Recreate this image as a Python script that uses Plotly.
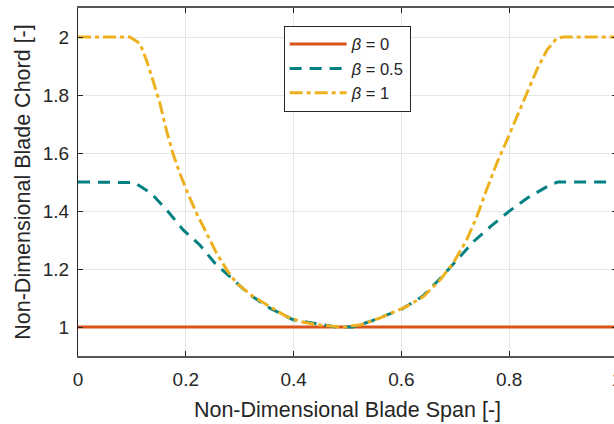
import plotly.graph_objects as go

# ---- data ----
x_beta0 = [0.0, 1.0]
y_beta0 = [1.0, 1.0]

x_beta05 = [0, 0.09, 0.105, 0.136, 0.167, 0.195, 0.226, 0.254, 0.282, 0.319, 0.356,
            0.399, 0.44, 0.48, 0.51, 0.545, 0.6, 0.64, 0.676, 0.709, 0.734, 0.765,
            0.799, 0.833, 0.876, 0.89, 1.0]
y_beta05 = [1.5, 1.5, 1.498, 1.461, 1.398, 1.335, 1.283, 1.22, 1.174, 1.111, 1.065,
            1.025, 1.012, 1.0, 1.0, 1.021, 1.061, 1.107, 1.175, 1.243, 1.295, 1.346,
            1.398, 1.444, 1.49, 1.5, 1.5]

x_beta1 = [0, 0.096, 0.115, 0.127, 0.139, 0.152, 0.164, 0.176, 0.189, 0.201, 0.22,
           0.238, 0.257, 0.276, 0.294, 0.325, 0.356, 0.387, 0.412, 0.44, 0.47, 0.495,
           0.525, 0.56, 0.61, 0.641, 0.672, 0.696, 0.721, 0.74, 0.758, 0.777, 0.796,
           0.814, 0.833, 0.851, 0.87, 0.888, 0.9, 1.0]
y_beta1 = [2, 2, 1.978, 1.92, 1.851, 1.771, 1.679, 1.599, 1.53, 1.473, 1.392,
           1.324, 1.255, 1.197, 1.151, 1.105, 1.071, 1.036, 1.019, 1.009, 1.003, 1.0,
           1.008, 1.031, 1.071, 1.105, 1.163, 1.22, 1.3, 1.381, 1.473, 1.565, 1.645,
           1.725, 1.806, 1.886, 1.955, 1.995, 2.0, 2.0]

series_names = ["<i>β</i> = 0", "<i>β</i> = 0.5", "<i>β</i> = 1"]
x_ticks = [0, 0.2, 0.4, 0.6, 0.8, 1]
x_tick_text = ["0", "0.2", "0.4", "0.6", "0.8", "1"]
y_ticks = [1, 1.2, 1.4, 1.6, 1.8, 2]
y_tick_text = ["1", "1.2", "1.4", "1.6", "1.8", "2"]

FONT = "Liberation Sans, Arial, Helvetica, sans-serif"
AX = "#262626"

fig = go.Figure()
fig.add_trace(go.Scatter(x=x_beta0, y=y_beta0, mode="lines", name=series_names[0],
                         line=dict(color="#D95319", width=3)))
fig.add_trace(go.Scatter(x=x_beta05, y=y_beta05, mode="lines", name=series_names[1],
                         line=dict(color="#008080", width=3, dash="12px,8px")))
fig.add_trace(go.Scatter(x=x_beta1, y=y_beta1, mode="lines", name=series_names[2],
                         line=dict(color="#EDB120", width=3, dash="13px,4px,4px,4px")))
# invisible trace to carry the right-side ticks
fig.add_trace(go.Scatter(x=[0], y=[1], yaxis="y2", mode="none", showlegend=False,
                         hoverinfo="skip"))

# the reference's plot box ends just beyond the right edge of the 614 px picture
fig.update_layout(
    width=617, height=424,
    margin=dict(l=78, r=0, t=8, b=68),
    paper_bgcolor="white", plot_bgcolor="white",
    font=dict(family=FONT, color=AX, size=19),
    showlegend=True,
    legend=dict(
        x=0.3816, y=0.949, xanchor="left", yanchor="top",
        bgcolor="white", bordercolor=AX, borderwidth=1,
        font=dict(family=FONT, size=16.5, color=AX),
        itemwidth=57, tracegroupgap=0,
    ),
    xaxis=dict(
        range=[0, 1], tickvals=x_ticks, ticktext=x_tick_text,
        showgrid=True, gridcolor="#e5e5e5", gridwidth=1, zeroline=False,
        showline=True, linecolor="#555555", linewidth=1.5, mirror="ticks",
        ticks="inside", ticklen=5, tickcolor=AX, tickwidth=1,
        tickfont=dict(size=19, family=FONT, color=AX),
        ticklabelstandoff=5, ticklabeloverflow="allow",
        title=dict(text="Non-Dimensional Blade Span [-]", font=dict(size=21.5, family=FONT, color=AX),
                   standoff=13),
        automargin=False,
    ),
    yaxis=dict(
        range=[0.9, 2.1], tickvals=y_ticks, ticktext=y_tick_text,
        showgrid=True, gridcolor="#e5e5e5", gridwidth=1, zeroline=False,
        showline=True, linecolor=AX, linewidth=1, mirror=False,
        ticks="inside", ticklen=5, tickcolor=AX, tickwidth=1,
        tickfont=dict(size=19, family=FONT, color=AX),
        ticklabelstandoff=4,
        title=dict(text="Non-Dimensional Blade Chord [-]", font=dict(size=21.5, family=FONT, color=AX),
                   standoff=6),
        automargin=False,
    ),
    yaxis2=dict(
        range=[0.9, 2.1], overlaying="y", side="right", tickvals=y_ticks,
        showticklabels=False, showgrid=False, zeroline=False, showline=False,
        ticks="inside", ticklen=5, tickcolor=AX, tickwidth=1,
    ),
)

fig.write_html(
    "out.html",
    config={"displayModeBar": False},
    post_script=("document.body.style.margin='0';"
                 "document.body.style.overflow='hidden';"
                 "document.documentElement.style.overflow='hidden';"),
)
